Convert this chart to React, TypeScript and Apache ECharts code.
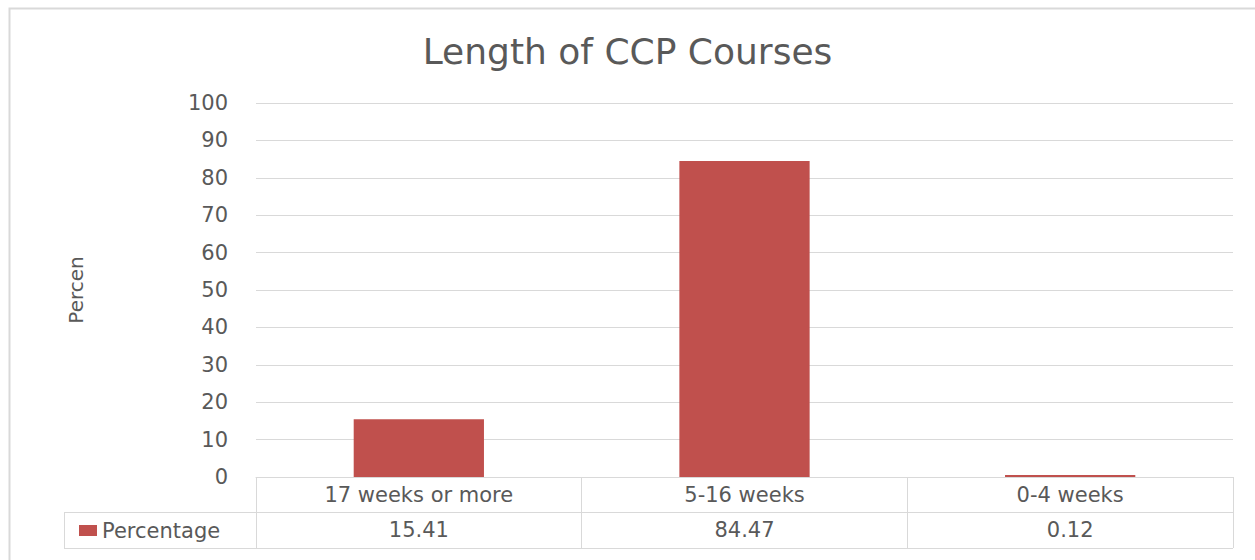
import React, { useEffect, useRef } from "react";
import * as echarts from "echarts";

const categories = ["17 weeks or more", "5-16 weeks", "0-4 weeks"];
const values = [15.41, 84.47, 0.12];
const valueLabels = ["15.41", "84.47", "0.12"];
const seriesName = "Percentage";
const yMin = 0;
const yMax = 100;
const yInterval = 10;

const FONT = "DejaVu Sans";
const TXT = "#595959";
const LINE = "#d9d9d9";
const BAR = "#c0504d";

export default function App() {
  const ref = useRef<HTMLDivElement>(null);
  useEffect(() => {
    if (!ref.current) return;
    const chart = echarts.init(ref.current, undefined, { renderer: "svg" });
    const gridLeft = 256;
    const gridRight = 1233;
    const gridTop = 103;
    const gridBottom = 477;
    chart.setOption({
      animation: false,
      backgroundColor: "#ffffff",
      textStyle: { fontFamily: FONT },
      title: {
        text: "Length of CCP Courses",
        left: "center",
        top: 28,
        textStyle: { fontFamily: FONT, fontSize: 36, fontWeight: "normal", color: TXT },
      },
      legend: {
        data: [seriesName],
        left: 74,
        top: 515,
        icon: "rect",
        itemWidth: 18,
        itemHeight: 11,
        itemGap: 7,
        textStyle: { fontFamily: FONT, fontSize: 21, color: TXT, lineHeight: 21 },
      },
      grid: {
        left: gridLeft,
        right: 1255 - gridRight,
        top: gridTop,
        bottom: 560 - gridBottom,
        containLabel: false,
      },
      xAxis: [
        {
          type: "category",
          data: categories,
          position: "bottom",
          axisLine: { show: true, lineStyle: { color: LINE, width: 1 } },
          axisTick: { show: true, length: 71, lineStyle: { color: LINE, width: 1 } },
          axisLabel: { fontFamily: FONT, fontSize: 21, color: TXT, margin: 7 },
          splitLine: { show: false },
        },
        {
          type: "category",
          data: valueLabels,
          position: "bottom",
          offset: 35,
          axisLine: { show: false },
          axisTick: { show: false },
          axisLabel: { fontFamily: FONT, fontSize: 21, color: TXT, margin: 7 },
          splitLine: { show: false },
        },
      ],
      yAxis: {
        type: "value",
        min: yMin,
        max: yMax,
        interval: yInterval,
        name: "Percen",
        nameLocation: "middle",
        nameGap: 170,
        nameTextStyle: { fontFamily: FONT, fontSize: 20, color: TXT },
        axisLine: { show: false },
        axisTick: { show: false },
        axisLabel: { fontFamily: FONT, fontSize: 21, color: TXT, margin: 28 },
        splitLine: { show: true, lineStyle: { color: LINE, width: 1 } },
      },
      series: [
        {
          name: seriesName,
          type: "bar",
          data: values,
          xAxisIndex: 0,
          barWidth: "40%",
          barMinHeight: 2,
          itemStyle: { color: BAR },
        },
      ],
      graphic: [
        {
          type: "rect",
          shape: { x: 9.5, y: 8.5, width: 1400, height: 700 },
          style: { fill: "none", stroke: LINE, lineWidth: 2 },
          silent: true,
        },
        {
          type: "line",
          shape: { x1: 64, y1: 512.5, x2: gridRight, y2: 512.5 },
          style: { stroke: LINE, lineWidth: 1 },
        },
        {
          type: "line",
          shape: { x1: 64, y1: 548.5, x2: gridRight, y2: 548.5 },
          style: { stroke: LINE, lineWidth: 1 },
        },
        {
          type: "line",
          shape: { x1: 64.5, y1: 512, x2: 64.5, y2: 549 },
          style: { stroke: LINE, lineWidth: 1 },
        },
      ],
    });
    return () => chart.dispose();
  }, []);
  return (
    <div
      ref={ref}
      style={{ position: "fixed", left: 0, top: 0, width: 1255, height: 560 }}
    />
  );
}
